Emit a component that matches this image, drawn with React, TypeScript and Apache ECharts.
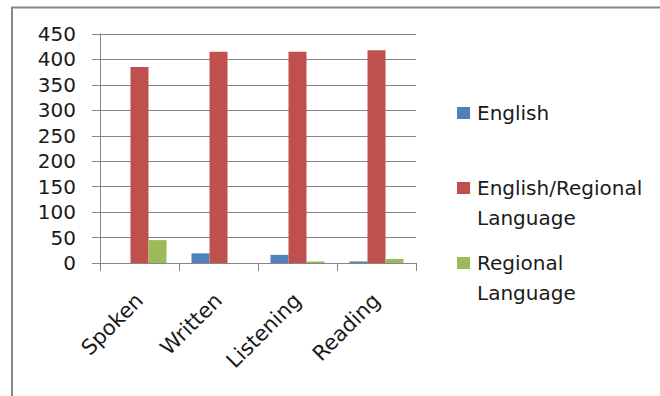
import React, { useEffect, useRef } from "react";
import * as echarts from "echarts";

// Skill categories on the x axis
const categories = ["Spoken", "Written", "Listening", "Reading"];

// Respondent counts per language choice
const seriesNames = ["English", "English/Regional\nLanguage", "Regional\nLanguage"];
const english = [0, 19, 16, 3];
const englishRegional = [385, 415, 415, 418];
const regional = [45, 0, 3, 8];

const colors = ["#4F81BD", "#C0504D", "#9BBB59"];
const FONT = "DejaVu Sans";

export default function App() {
  const ref = useRef<HTMLDivElement>(null);

  useEffect(() => {
    document.body.style.margin = "0";
    if (!ref.current) return;
    const chart = echarts.init(ref.current, undefined, { renderer: "svg" });

    const values = [english, englishRegional, regional];
    const legendCenters = [113, 188, 263];

    // Legend drawn as swatch + text so the swatch sits beside the first line
    const legendGraphics: any[] = [];
    seriesNames.forEach((name, i) => {
      legendGraphics.push({
        type: "rect",
        shape: { x: 457, y: legendCenters[i] - 6, width: 13, height: 12 },
        style: { fill: colors[i] },
      });
      legendGraphics.push({
        type: "text",
        x: 477,
        y: legendCenters[i] - 15,
        style: {
          text: name,
          font: `20px "${FONT}"`,
          fill: "#1a1a1a",
          lineHeight: 30,
          textVerticalAlign: "top",
        },
      });
    });

    chart.setOption({
      animation: false,
      backgroundColor: "#ffffff",
      grid: { left: 100, right: 244, top: 34, bottom: 133 },
      xAxis: {
        type: "category",
        data: categories,
        axisLine: { show: true, lineStyle: { color: "#868686", width: 1 } },
        axisTick: { show: true, length: 8, alignWithLabel: false, lineStyle: { color: "#868686" } },
        axisLabel: {
          rotate: 45,
          margin: 34,
          interval: 0,
          fontFamily: FONT,
          fontSize: 21,
          color: "#1a1a1a",
        },
      },
      yAxis: {
        type: "value",
        min: 0,
        max: 450,
        interval: 50,
        axisLine: { show: true, lineStyle: { color: "#868686", width: 1 } },
        axisTick: { show: true, length: 8, lineStyle: { color: "#868686" } },
        axisLabel: {
          margin: 24,
          fontFamily: FONT,
          fontSize: 20,
          color: "#1a1a1a",
        },
        splitLine: { show: true, lineStyle: { color: "#868686", width: 1 } },
      },
      series: seriesNames.map((name, i) => ({
        name,
        type: "bar",
        data: values[i],
        barWidth: 18,
        barGap: "0%",
        itemStyle: { color: colors[i] },
      })),
      graphic: [
        {
          type: "rect",
          shape: { x: 12, y: 7.5, width: 700, height: 450 },
          style: { fill: "none", stroke: "#878787", lineWidth: 2 },
          z: -1,
        },
        ...legendGraphics,
      ],
    });

    return () => chart.dispose();
  }, []);

  return <div ref={ref} style={{ width: 660, height: 396 }} />;
}
